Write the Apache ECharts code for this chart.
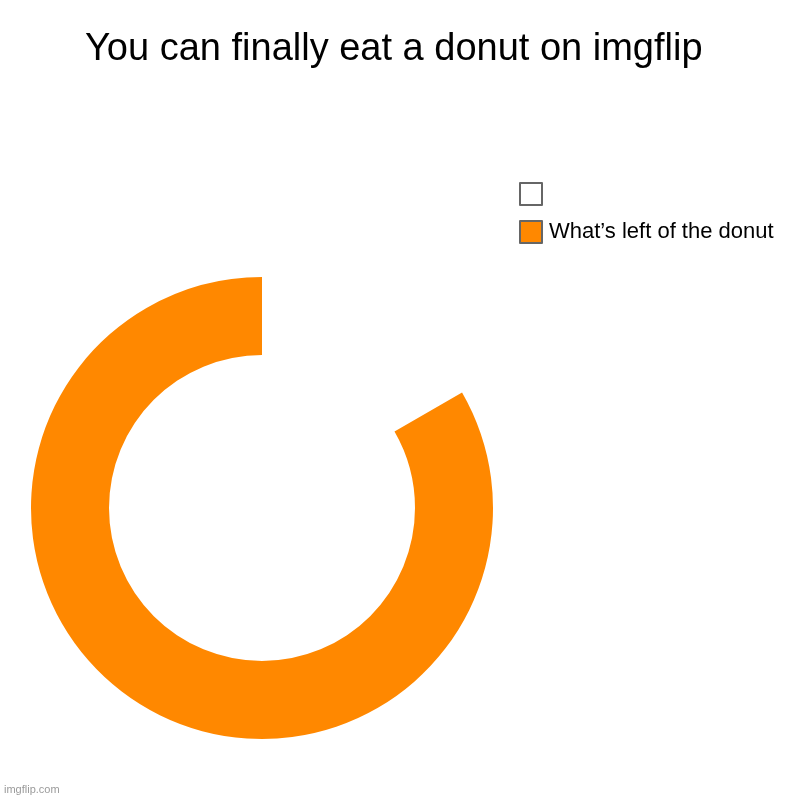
<!DOCTYPE html>
<html><head><meta charset="utf-8">
<script src="https://cdn.jsdelivr.net/npm/echarts@6/dist/echarts.min.js"></script>
<style>html,body{margin:0;padding:0;background:#fff}#c{width:800px;height:800px}</style>
</head><body><div id="c"></div>
<script>
const categories = [" ", "What’s left of the donut"];
const values = [1, 5];
const colors = ["#ffffff", "#ff8800"];
const chart = echarts.init(document.getElementById('c'));
chart.setOption({
  backgroundColor: '#fff',
  animation: false,
  title: {
    text: 'You can finally eat a donut on imgflip',
    left: 85, top: 31, padding: 0,
    textStyle: {fontFamily: 'Liberation Sans, Arial', fontSize: 38, fontWeight: 'normal', color: '#000'}
  },
  graphic: [{type: 'text', left: 4, top: 784, style: {text: 'imgflip.com', fill: '#9a9a9a', font: '11px Liberation Sans, Arial'}}],
  legend: {
    orient: 'vertical', left: 519, top: 182, padding: 0,
    itemWidth: 22, itemHeight: 22, itemGap: 14, icon: 'rect',
    itemStyle: {borderColor: '#666', borderWidth: 2},
    textStyle: {fontFamily: 'Liberation Sans, Arial', fontSize: 22, color: '#000', padding: [0,0,0,2]},
    data: categories.map(n => ({name: n}))
  },
  series: [{
    type: 'pie', center: [262, 508], radius: [153, 231],
    startAngle: 90, clockwise: true, label: {show: false}, labelLine: {show: false},
    emphasis: {disabled: true}, silent: true,
    data: categories.map((n, i) => ({name: n, value: values[i], itemStyle: {color: colors[i]}}))
  }]
});
</script></body></html>
